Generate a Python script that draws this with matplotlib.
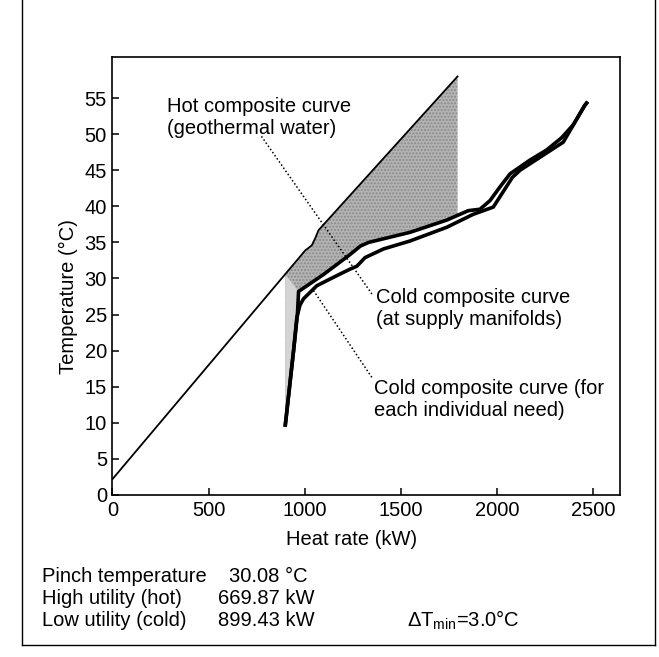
import matplotlib
matplotlib.use('Agg')
import matplotlib.pyplot as plt
import numpy as np

plt.rcParams['font.family'] = ['Liberation Sans', 'DejaVu Sans']
plt.rcParams['mathtext.fontset'] = 'custom'
plt.rcParams['mathtext.rm'] = 'Liberation Sans'
plt.rcParams['mathtext.it'] = 'Liberation Sans'

# Hot composite curve (geothermal water), kW / degC
hot_q = [0, 1003, 1037, 1055, 1072, 1795]
hot_t = [2.2, 33.9, 34.6, 35.6, 36.7, 58.0]

# Cold composite curve (upper branch near the pinch)
cold_a_q = [899, 942, 962, 968, 1100, 1230, 1290, 1332, 1548, 1739, 1851, 1912,
            1964, 2016, 2068, 2171, 2258, 2336, 2397, 2457, 2466]
cold_a_t = [9.7, 20.0, 25.0, 28.2, 30.6, 33.2, 34.5, 35.0, 36.4, 38.1, 39.4, 39.6,
            40.8, 42.7, 44.5, 46.4, 47.8, 49.5, 51.3, 54.0, 54.3]

# Cold composite curve (lower branch near the pinch)
cold_b_q = [899, 942, 959, 975, 994, 1063, 1167, 1236, 1271, 1314, 1410, 1548,
            1739, 1877, 1981, 2080, 2120, 2345, 2457, 2466]
cold_b_t = [9.7, 20.0, 24.6, 26.3, 27.2, 29.0, 30.4, 31.3, 31.7, 32.9, 34.1, 35.2,
            37.1, 38.9, 39.9, 44.0, 45.0, 48.9, 54.0, 54.3]

q_low = 899      # left edge of the shaded band
q_high = 1795    # right edge of the shaded band

fig = plt.figure(figsize=(6.59, 6.57), dpi=100)
ax = fig.add_axes([0.1707, 0.2466, 0.7701, 0.6667])

# shaded band between hot and cold curves
hot_at_low = np.interp(q_low, hot_q, hot_t)
cold_at_high = np.interp(q_high, cold_a_q, cold_a_t)
top_q = [q_low] + [q for q in hot_q if q_low < q < q_high] + [q_high]
top_t = [hot_at_low] + [t for q, t in zip(hot_q, hot_t) if q_low < q < q_high] + [58.0]
bot_q = [q for q in cold_a_q if q < q_high] + [q_high]
bot_t = [t for q, t in zip(cold_a_q, cold_a_t) if q < q_high] + [cold_at_high]
poly_q = top_q + [q_high] + bot_q[::-1]
poly_t = top_t + [cold_at_high] + bot_t[::-1]
ax.fill(poly_q, poly_t, facecolor='#b4b4b4', edgecolor='#8a8a8a', hatch='.....',
        lw=0, zorder=1)
# lighter strip below the pinch
strip_q = [q_low, q_low] + [q for q in cold_a_q if q <= 968][::-1]
strip_t = [9.7, hot_at_low] + [t for q, t in zip(cold_a_q, cold_a_t) if q <= 968][::-1]
ax.fill(strip_q, strip_t, color='#d4d4d4', lw=0, zorder=1.5)

ax.plot(hot_q, hot_t, color='black', lw=1.3, zorder=3)
ax.plot(cold_a_q, cold_a_t, color='black', lw=2.6, zorder=3, solid_joinstyle='round')
ax.plot(cold_b_q, cold_b_t, color='black', lw=2.6, zorder=3, solid_joinstyle='round')

# labels and dotted leaders
dots = (0, (1, 1.5))
ax.text(282, 52.3, 'Hot composite curve\n(geothermal water)', fontsize=14.5,
        ha='left', va='center', linespacing=1.2)
ax.text(1373, 25.9, 'Cold composite curve\n(at supply manifolds)', fontsize=14.5,
        ha='left', va='center', linespacing=1.2)
# one straight leader runs from the hot label, through the band, to the cold label
ax.plot([775, 1356], [49.7, 27.6], color='black', lw=1.1, ls=dots, zorder=2)

ax.text(1360, 13.2, 'Cold composite curve (for\neach individual need)', fontsize=14.5,
        ha='left', va='center', linespacing=1.2)
ax.plot([1349, 1044], [16.3, 28.4], color='black', lw=1.1, ls=dots, zorder=2)

ax.set_xlim(0, 2640)
ax.set_ylim(0, 60.7)
ax.set_xticks([0, 500, 1000, 1500, 2000, 2500])
ax.set_yticks(range(0, 56, 5))
ax.tick_params(direction='in', length=5, width=1.1, labelsize=14.5, pad=4)
for s in ax.spines.values():
    s.set_linewidth(1.2)

ax.set_xlabel('Heat rate (kW)', fontsize=14.5)
ax.xaxis.set_label_coords(0.472, -0.080)
ax.set_ylabel('Temperature (°C)', fontsize=14.5)
ax.yaxis.set_label_coords(-0.068, 0.454)

# summary block under the chart
W, H = 659, 657
rows = [('Pinch temperature', '30.08 °C', 576),
        ('High utility (hot)', '669.87 kW', 598),
        ('Low utility (cold)', '899.43 kW', 620)]
vx = [229, 218, 217.6]
for (name, val, y), x2 in zip(rows, vx):
    fig.text(42 / W, 1 - y / H, name, fontsize=14.5, ha='left', va='center')
    fig.text(x2 / W, 1 - y / H, val, fontsize=14.5, ha='left', va='center')
fig.text(407 / W, 1 - 620 / H, r'$\Delta\mathrm{T}_{\mathrm{min}}$=3.0°C',
         fontsize=14.5, ha='left', va='center')

# page frame around the figure
fig.add_artist(plt.Line2D([22 / W, 22 / W], [1.0, 1 - 645 / H], color='black', lw=1.0))
fig.add_artist(plt.Line2D([22 / W, 655 / W], [1 - 645 / H, 1 - 645 / H], color='black', lw=1.0))
fig.add_artist(plt.Line2D([655 / W, 655 / W], [1.0, 1 - 645 / H], color='black', lw=1.0))

fig.savefig('out.png', dpi=100)
